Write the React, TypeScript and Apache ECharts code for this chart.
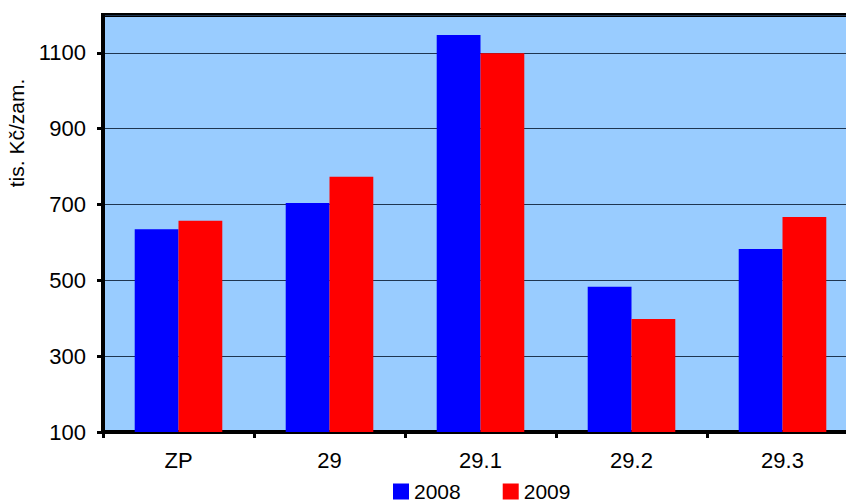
import React, { useEffect, useRef } from "react";
import * as echarts from "echarts";

const categories = ["ZP", "29", "29.1", "29.2", "29.3"];
const series2008 = [635, 704, 1147, 483, 583];
const series2009 = [657, 773, 1099, 398, 667];
const seriesNames = ["2008", "2009"];
const yAxisTitle = "tis. Kč/zam.";

export default function App() {
  const ref = useRef<HTMLDivElement>(null);
  useEffect(() => {
    const chart = echarts.init(ref.current!, null, { renderer: "svg" });
    const font = "'Liberation Sans', Arial, Helvetica, sans-serif";
    chart.setOption({
      animation: false,
      grid: {
        left: 103,
        top: 15,
        height: 417,
        width: 755,
        show: true,
        backgroundColor: "#99CCFF",
        borderColor: "#000",
        borderWidth: 4,
        containLabel: false,
      },
      legend: {
        data: seriesNames,
        left: 393,
        top: 481,
        padding: 0,
        itemWidth: 16,
        itemHeight: 16,
        itemGap: 42,
        icon: "rect",
        textStyle: { fontSize: 21, color: "#000", fontFamily: font },
      },
      graphic: [
        {
          type: "text",
          x: 16,
          y: 133,
          rotation: Math.PI / 2,
          style: {
            text: yAxisTitle,
            fontSize: 21,
            fontFamily: font,
            fill: "#000",
            textAlign: "center",
            textVerticalAlign: "middle",
          },
        },
      ],
      xAxis: {
        type: "category",
        data: categories,
        axisLine: { show: true, lineStyle: { color: "#000", width: 4 } },
        axisTick: { show: true, length: 6, lineStyle: { color: "#000", width: 3 } },
        axisLabel: { fontSize: 22, color: "#000", fontFamily: font, margin: 17 },
      },
      yAxis: {
        type: "value",
        min: 100,
        max: 1200,
        interval: 200,
        axisLine: { show: true, lineStyle: { color: "#000", width: 4 } },
        axisTick: { show: true, length: 6, lineStyle: { color: "#000", width: 3 } },
        axisLabel: {
          fontSize: 22,
          color: "#000",
          fontFamily: font,
          margin: 17,
          showMaxLabel: false,
          formatter: (v: number) => String(v),
        },
        splitLine: { show: true, lineStyle: { color: "#1f3550", width: 1.2 } },
      },
      series: [
        {
          name: seriesNames[0],
          type: "bar",
          data: series2008,
          itemStyle: { color: "#0000FF" },
          barGap: "0%",
          barCategoryGap: "42%",
        },
        {
          name: seriesNames[1],
          type: "bar",
          data: series2009,
          itemStyle: { color: "#FF0000" },
          barGap: "0%",
          barCategoryGap: "42%",
        },
      ],
    });
    return () => chart.dispose();
  }, []);
  return (
    <div style={{ width: 846, height: 502, position: "absolute", left: 0, top: 0, overflow: "hidden" }}>
      <div ref={ref} style={{ width: 880, height: 502 }} />
    </div>
  );
}
